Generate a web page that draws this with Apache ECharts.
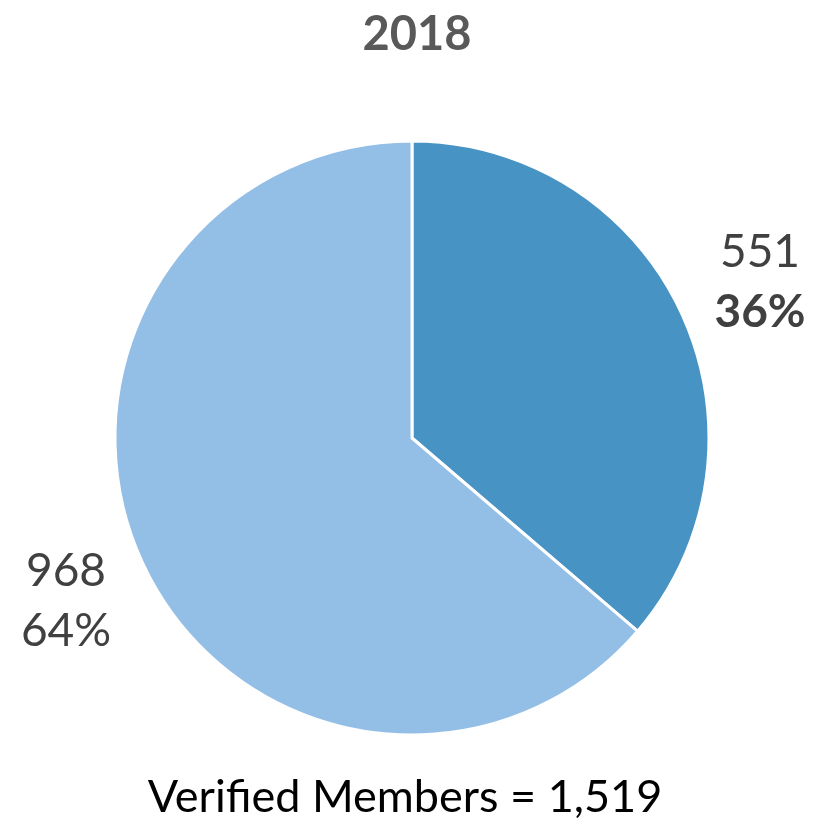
<!DOCTYPE html>
<html>
<head>
<meta charset="utf-8">
<title>2018</title>
<script src="https://cdn.jsdelivr.net/npm/echarts@6/dist/echarts.min.js"></script>
<style>
  html, body { margin: 0; padding: 0; background: #fff; }
  #chart { width: 820px; height: 819px; }
</style>
</head>
<body>
<div id="chart"></div>
<script>
// 数据
var categories = ['Group A', 'Group B'];
var values = [551, 968];
var percents = ['36%', '64%'];
var colors = ['#4793c4', '#93bfe6'];
var total = 1519;

var chart = echarts.init(document.getElementById('chart'));

var pieData = values.map(function (v, i) {
    return {
        name: categories[i],
        value: v,
        itemStyle: { color: colors[i] },
        label: {
            formatter: i === 0 ? '{n|' + v + '}\n{pb|' + percents[i] + '}'
                               : '{n|' + v + '}\n{p|' + percents[i] + '}'
        }
    };
});

chart.setOption({
    animation: false,
    title: [{
        text: '2018',
        left: 412,
        top: 6,
        textAlign: 'center',
        textStyle: { fontFamily: 'Lato', fontSize: 47, fontWeight: 'bold', color: '#595959' }
    }, {
        text: 'Verified Members = ' + total.toLocaleString('en-US'),
        left: 400,
        top: 770,
        textAlign: 'center',
        textStyle: { fontFamily: 'Lato', fontSize: 45, fontWeight: 'normal', color: '#000' }
    }],
    series: [{
        type: 'pie',
        center: [412, 438],
        radius: 297,
        startAngle: 90,
        emphasis: { disabled: true },
        itemStyle: { borderColor: '#fff', borderWidth: 3 },
        labelLine: { show: false },
        label: {
            position: 'outside',
            align: 'center',
            overflow: 'none',
            width: 200,
            lineHeight: 58,
            rich: {
                n: { fontFamily: 'Lato', fontSize: 46, color: '#404040', lineHeight: 60 },
                p: { fontFamily: 'Lato', fontSize: 46, color: '#404040', lineHeight: 60 },
                pb: { fontFamily: 'Lato', fontSize: 46, color: '#404040', fontWeight: 'bold', lineHeight: 60 }
            }
        },
        labelLayout: function (params) {
            if (params.dataIndex === 0) {
                return { x: 760, y: 282, align: 'center', verticalAlign: 'middle' };
            }
            return { x: 66, y: 601, align: 'center', verticalAlign: 'middle' };
        },
        data: pieData
    }]
});
</script>
</body>
</html>
